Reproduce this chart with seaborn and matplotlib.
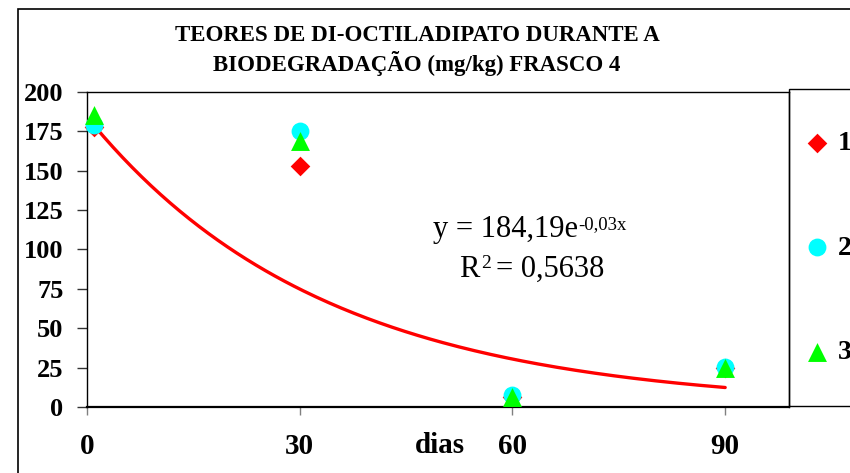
import numpy as np
import pandas as pd
import matplotlib
matplotlib.use("Agg")
import matplotlib.pyplot as plt
from matplotlib.patches import Rectangle
import seaborn as sns

# Data
days = [1, 30, 60, 90]
frasco_1 = [178, 153, 6.3, 24.8]
frasco_2 = [179, 175, 7.6, 25.4]
frasco_3 = [185.4, 169, 6.3, 25]
series_labels = ["1", "2", "3"]
x_ticks = [0, 30, 60, 90]
y_ticks = [0, 25, 50, 75, 100, 125, 150, 175, 200]

# exponential trendline as given on the chart: y = 184,19 e^(-0,03x)
fit_a = 184.19
fit_b = -0.03
fit_r2 = "0,5638"

title = "TEORES DE DI-OCTILADIPATO DURANTE A\nBIODEGRADAÇÃO (mg/kg) FRASCO 4"


def create_chart():
    sns.set_style("white")
    plt.rcParams["font.family"] = ["Liberation Serif", "DejaVu Serif"]
    plt.rcParams["text.color"] = "black"
    plt.rcParams["xtick.color"] = "black"
    plt.rcParams["ytick.color"] = "black"
    plt.rcParams["axes.labelcolor"] = "black"

    fig = plt.figure(figsize=(8.5, 4.73), dpi=100)
    ax = fig.add_axes([87 / 850, 1 - 407 / 473, 702 / 850, 315 / 473])

    # trendline
    x_fit = np.linspace(days[0], days[-1], 200)
    trend = pd.DataFrame({"dias": x_fit, "teor": fit_a * np.exp(fit_b * x_fit)})
    sns.lineplot(data=trend, x="dias", y="teor", color="#FF0000", linewidth=2.4, ax=ax)

    # measured points
    points = [
        (frasco_1, "#FF0000", "D", 100),
        (frasco_2, "#00FFFF", "o", 165),
        (frasco_3, "#00FF00", "^", 185),
    ]
    for (values, color, marker, size), label in zip(points, series_labels):
        sns.scatterplot(x=days, y=values, color=color, marker=marker, s=size,
                        linewidth=0, label=label, ax=ax, zorder=3, clip_on=False)

    ax.set_xlim(0, 99)
    ax.set_ylim(0, 200)
    ax.set_xticks(x_ticks)
    ax.set_yticks(y_ticks)
    ax.set_xticklabels([str(t) for t in x_ticks], fontsize=21, fontweight="bold")
    ax.set_yticklabels([str(t) for t in y_ticks], fontsize=19, fontweight="bold")
    ax.tick_params(axis="y", direction="out", length=7, width=1, color="#333333", pad=10, left=True)
    ax.tick_params(axis="x", direction="out", length=6, width=1, color="#808080", pad=13, bottom=True)
    ax.set_ylabel("")
    ax.set_xlabel("dias", fontsize=21, fontweight="bold")
    ax.xaxis.set_label_coords(0.503, -0.08)

    for side, spine in ax.spines.items():
        spine.set_visible(True)
        spine.set_color("black")
        spine.set_linewidth(1.0)
    ax.spines["bottom"].set_linewidth(1.6)

    # equation of the trendline
    eq = ax.text(0.596, 0.540, "y = 184,19e", transform=ax.transAxes,
                 ha="center", va="baseline", fontsize=22)
    ax.annotate("-0,03x", xy=(1.0, 1.0), xycoords=eq, xytext=(0.5, -1),
                textcoords="offset points", ha="left", va="top", fontsize=13.5)
    r2 = ax.text(0.530, 0.413, "R", transform=ax.transAxes,
                 ha="left", va="baseline", fontsize=22)
    ax.annotate("2", xy=(1.0, 1.0), xycoords=r2, xytext=(1.5, 0),
                textcoords="offset points", ha="left", va="top", fontsize=14)
    ax.text(0.582, 0.413, "= " + fit_r2, transform=ax.transAxes,
            ha="left", va="baseline", fontsize=22)

    # title
    fig.text(417 / 850, 1 - 25 / 473, title, ha="center", va="top", fontsize=16.5,
             fontweight="bold", linespacing=1.25)

    # legend on the right
    sns.move_legend(ax, loc="center left", bbox_to_anchor=(803 / 850, 1 - 248 / 473),
                    bbox_transform=fig.transFigure, frameon=False, title=None,
                    handlelength=1.0, handletextpad=0.25, labelspacing=2.85,
                    borderpad=0, borderaxespad=0, prop={"size": 20, "weight": "bold"})
    fig.patches.append(Rectangle((789 / 850, 1 - 406 / 473), 0.2, 317 / 473,
                                 transform=fig.transFigure, fill=False,
                                 edgecolor="black", linewidth=1.0))

    # outer chart border (cropped on the right and bottom)
    fig.patches.append(Rectangle((18 / 850, -0.1), 1.2, 1.1 - 9 / 473,
                                 transform=fig.transFigure, fill=False,
                                 edgecolor="black", linewidth=1.2))

    fig.savefig("out.png", dpi=100)
    plt.close(fig)


if __name__ == "__main__":
    create_chart()
